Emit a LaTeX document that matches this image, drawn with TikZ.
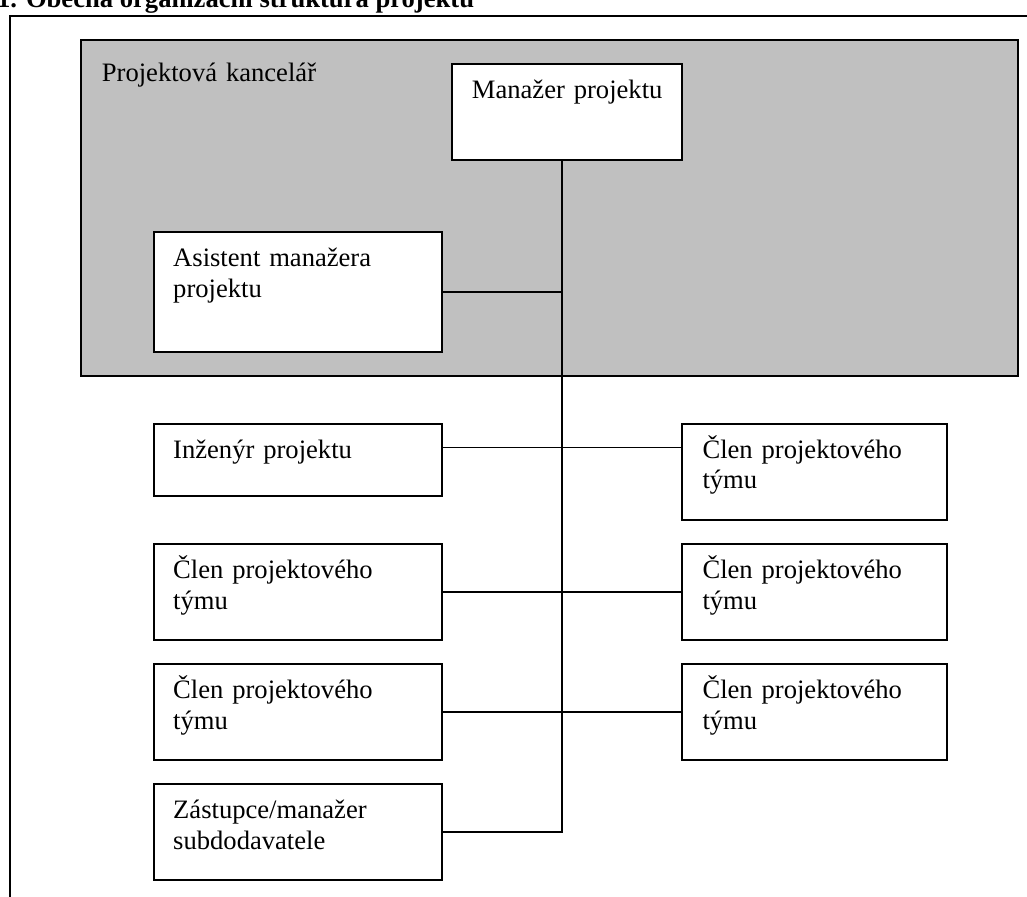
\documentclass[tikz,border=0pt]{standalone}
\usepackage{fontspec}
\setmainfont{Liberation Serif}
\definecolor{pgray}{HTML}{C0C0C0}
\begin{document}
\begin{tikzpicture}[x=1pt,y=-1pt,
  box/.style={draw=black,line width=2pt,fill=white,rectangle,inner sep=0pt,anchor=north west},
  lbl/.style={anchor=base west,inner sep=0pt,text width=250pt,align=left,
    font=\fontsize{26.6}{30.5}\selectfont},
  conn/.style={draw=black,line width=1.9pt}]
\useasboundingbox (0,0) rectangle (1027,896);
\clip (0,0) rectangle (1027,896);
% title (cut by top edge, as in the reference)
\node[anchor=base west,inner sep=0pt,font=\fontsize{26.6}{30}\selectfont\bfseries] (title) at (-3,7.5) {1. Obecná organizační struktura projektu};
% outer frame
\node[draw=black,line width=2pt,rectangle,inner sep=0pt,anchor=north west,minimum width=1060pt,minimum height=920pt] (frame) at (8.5,15.5) {};
% office
\node[draw=black,line width=2pt,fill=pgray,rectangle,inner sep=0pt,anchor=north west,minimum width=937.3pt,minimum height=336pt] (office) at (80,39) {};
\node[lbl] (officeT) at (101.7,82) {Projektová kancelář};
% boxes
\node[box,minimum width=230pt,minimum height=96pt] (mgr) at (451,63) {};
\node[lbl] (mgrT) at (471.7,98.3) {Manažer projektu};
\node[box,minimum width=288.3pt,minimum height=120pt] (asst) at (152.7,231) {};
\node[lbl] (asstT) at (173,266.7) {Asistent manažera\\projektu};
\node[box,minimum width=288.3pt,minimum height=71.7pt] (eng) at (152.7,423.3) {};
\node[lbl] (engT) at (173,458.3) {Inženýr projektu};
\node[box,minimum width=288.3pt,minimum height=96pt] (l2) at (152.7,543.3) {};
\node[lbl] (l2T) at (173,578.6) {Člen projektového\\týmu};
\node[box,minimum width=288.3pt,minimum height=96pt] (l3) at (152.7,663.3) {};
\node[lbl] (l3T) at (173,698.6) {Člen projektového\\týmu};
\node[box,minimum width=288.3pt,minimum height=96pt] (zast) at (152.7,783.3) {};
\node[lbl] (zastT) at (173,818.6) {Zástupce/manažer\\subdodavatele};
\node[box,minimum width=265pt,minimum height=96pt] (r1) at (681,423.3) {};
\node[lbl] (r1T) at (702.3,458.3) {Člen projektového\\týmu};
\node[box,minimum width=265pt,minimum height=96pt] (r2) at (681,543.3) {};
\node[lbl] (r2T) at (702.3,578.6) {Člen projektového\\týmu};
\node[box,minimum width=265pt,minimum height=96pt] (r3) at (681,663.3) {};
\node[lbl] (r3T) at (702.3,698.6) {Člen projektového\\týmu};
% connectors
\path (mgr.south) ++(-5,0) coordinate (t0);
\coordinate (c1) at (561,447.5);
\draw[conn] (t0) |- (zast.east);
\draw[conn] (asst.east) -- (asst.east -| t0);
\draw[conn] (eng.east |- c1) -- (r1.west |- c1);
\draw[conn] (l2.east) -- (r2.west);
\draw[conn] (l3.east) -- (r3.west);
\end{tikzpicture}
\end{document}
